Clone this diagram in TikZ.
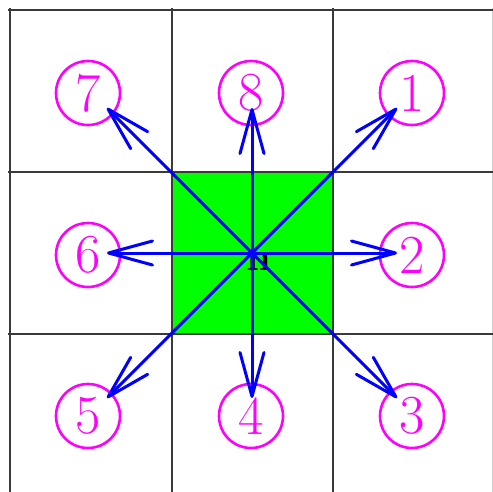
\documentclass[tikz,border=0pt]{standalone}
\usetikzlibrary{arrows.meta}
\definecolor{gridgray}{HTML}{3A3A3A}
\definecolor{mag}{HTML}{FF00FF}
\definecolor{arrblue}{HTML}{0000FF}
\definecolor{cellgreen}{HTML}{00FF00}
\tikzset{
  gridline/.style={draw=gridgray, line width=2.4pt},
  num/.style={circle, draw=mag, line width=2.6pt, minimum size=64pt, inner sep=0pt,
    text=mag, font=\fontsize{55}{55}\selectfont},
  dirarrow/.style={draw=arrblue, line width=3pt, line cap=round,
    -{Straight Barb[length=44pt, width=24pt, round]}},
}
\begin{document}
\begin{tikzpicture}[x=1pt, y=-1pt]
\useasboundingbox (0,0) rectangle (493,492);
\fill[white] (0,0) rectangle (493,492);
% centre cell
\fill[cellgreen] (172,172) rectangle (333,334);
% grid
\draw[gridgray!25, line width=1pt] (492,8) -- (492,492);
\foreach \x in {10,172,333} \draw[gridline] (\x,8) -- (\x,492);
\foreach \y in {10,172,334} \draw[gridline] (8,\y) -- (493,\y);
% centre label
\node[font=\fontsize{40}{40}\selectfont\bfseries, inner sep=0pt] (n) at (259,261) {n};
% numbered circles
\node[num] (c7) at (88,93) {7};
\node[num] (c8) at (251,93) {8};
\node[num] (c1) at (412,93) {1};
\node[num] (c6) at (88,255) {6};
\node[num] (c2) at (412,255) {2};
\node[num] (c5) at (88,416) {5};
\node[num] (c4) at (251,416) {4};
\node[num] (c3) at (412,416) {3};
% arrow end points
\coordinate (o) at (252,253);
\coordinate (t7) at (107,108);
\coordinate (t8) at (252,108);
\coordinate (t1) at (397,108);
\coordinate (t6) at (107,253);
\coordinate (t2) at (397,253);
\coordinate (t5) at (107,398);
\coordinate (t4) at (252,398);
\coordinate (t3) at (397,398);
\foreach \t in {t1,t2,t3,t4,t5,t6,t7,t8} \draw[dirarrow] (o) -- (\t);
\end{tikzpicture}
\end{document}
